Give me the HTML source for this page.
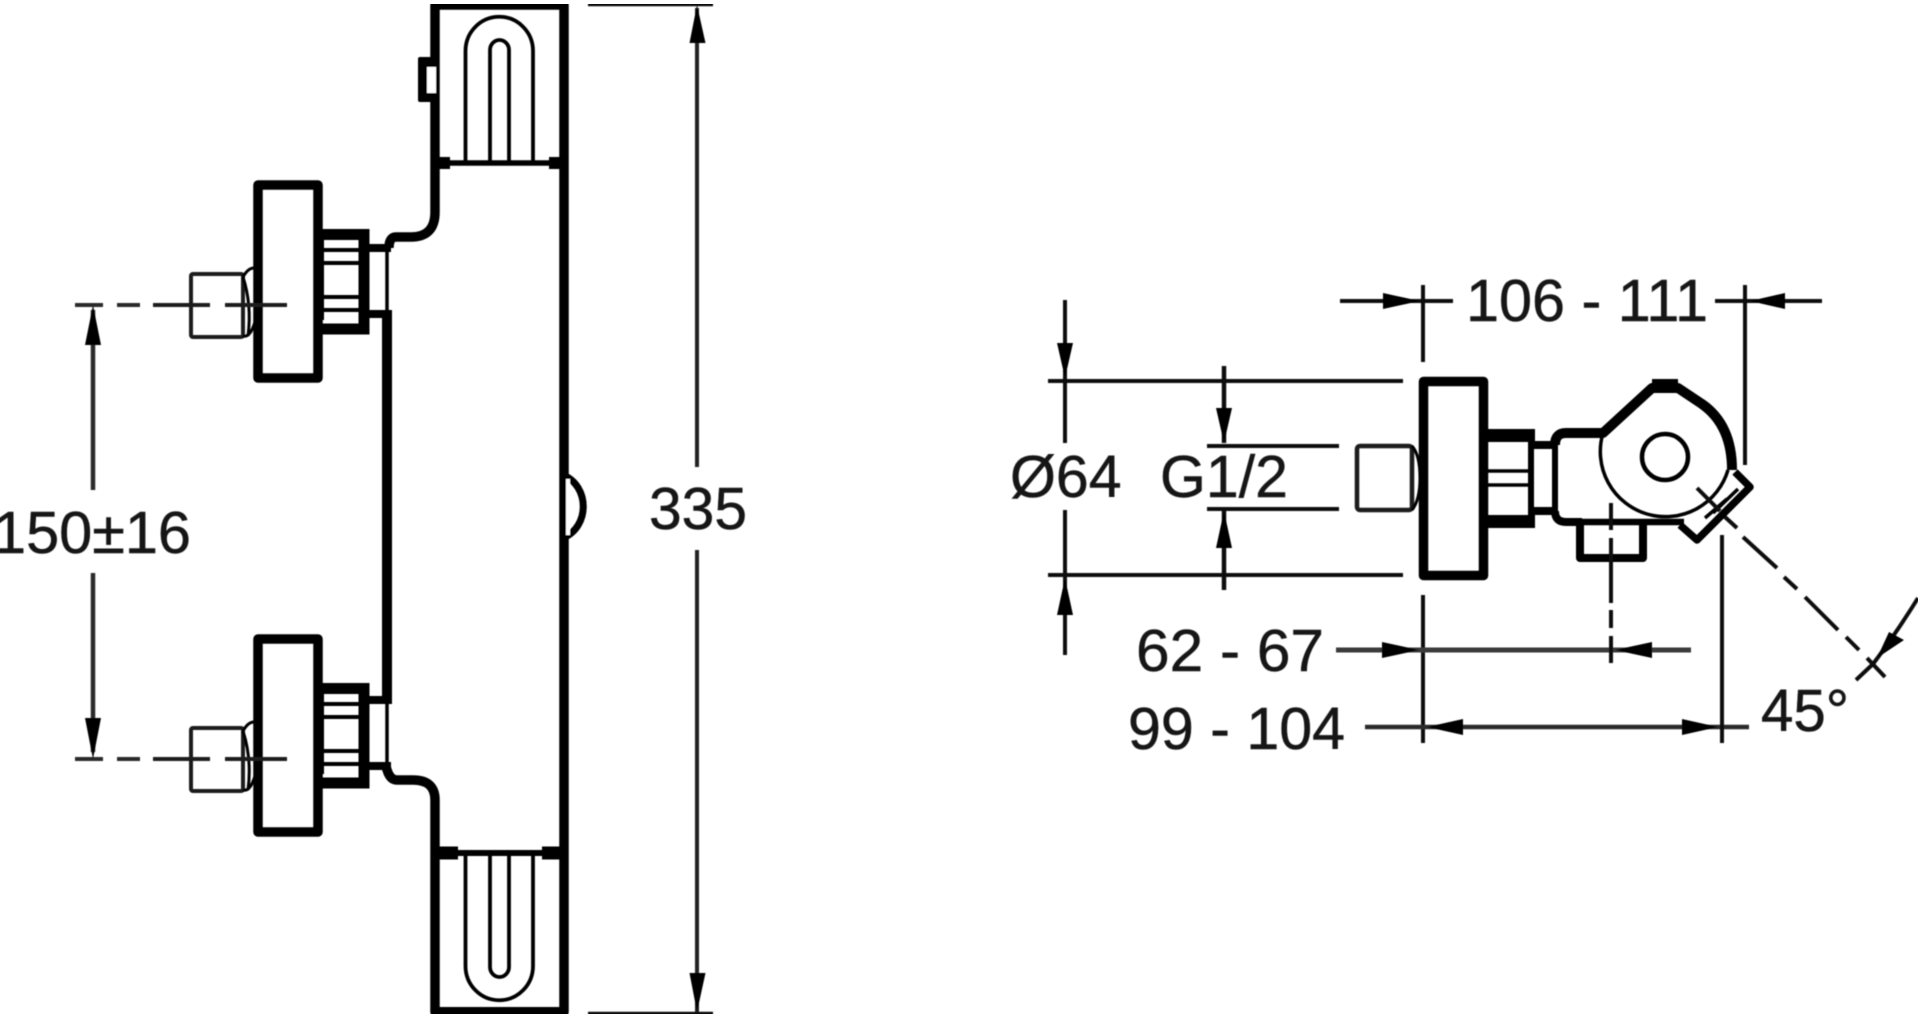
<!DOCTYPE html>
<html lang="en">
<head>
<meta charset="utf-8">
<title>Thermostatic mixer dimensions</title>
<style>
html,body{margin:0;padding:0;background:#fff;width:1920px;height:1019px;overflow:hidden}
svg{display:block}
text{font-family:"Liberation Sans",sans-serif;font-size:59px;fill:#151515;stroke:#151515;stroke-width:.5px}
</style>
</head>
<body>
<svg width="1920" height="1019" viewBox="0 0 1920 1019" xmlns="http://www.w3.org/2000/svg">
<defs>
<filter id="soft" x="0" y="0" width="100%" height="100%"><feGaussianBlur stdDeviation="0.45"/></filter>
<g id="valve" fill="none" stroke="#050505">
  <rect x="258" y="185" width="60" height="193" stroke-width="9.5" stroke-linejoin="round"/>
  <path d="M316 234.500H364V329H316" stroke-width="11" stroke-linejoin="miter"/>
  <path d="M364 234V330" stroke-width="8"/>
  <path d="M322 250Q316 280 322 310" stroke-width="3"/>
  <path d="M322 240V320" stroke-width="4"/>
  <path d="M322 250H363M322 263H363M322 297H363M322 310H363" stroke-width="4"/>
  <rect x="191" y="274" width="52" height="63" stroke-width="4" rx="2" stroke="#1a1a1a"/>
  <path d="M243 277Q248 268 254 268M243 336Q250 338 255 322M243 277Q252 305 248 336" stroke-width="3"/>
  <path d="M153 305H210M225 305H287" stroke-width="4" stroke="#1a1a1a"/>
</g>
</defs>
<rect width="1920" height="1019" fill="#fff"/>
<g filter="url(#soft)">
<!-- LEFT VIEW : body -->
<g fill="none" stroke="#050505" stroke-linejoin="round" stroke-linecap="butt">
  <path d="M435 163V5H564V1012H435V853" stroke-width="9.500" fill="none"/>
  <path d="M435 4.500H564" stroke-width="10"/>
  <path d="M435 1012H564" stroke-width="10"/>
  <!-- dividers -->
  <path d="M435 163H564" stroke-width="5.500"/>
  <path d="M431 163H450M549 163H568" stroke-width="12"/>
  <path d="M435 853H564" stroke-width="6"/>
  <path d="M431 853H458M542 853H568" stroke-width="13"/>
  <!-- U shapes -->
  <path d="M465.500 163V51A33.500 34 0 0 1 533 51V163" stroke-width="3.800"/>
  <path d="M490 163V50A9.500 10 0 0 1 509 50V163" stroke-width="3.800"/>
  <path d="M465.500 853V966A33.500 34 0 0 0 533 966V853" stroke-width="3.800"/>
  <path d="M490 853V967A9.500 10 0 0 0 509 967V853" stroke-width="3.800"/>
  <!-- shoulder top -->
  <path d="M435 163V212Q435 237 411 237H396Q389 237 389 248" stroke-width="9.500"/>
  <!-- shoulder bottom -->
  <path d="M435 853V800Q435 780 413 780H397Q389 780 386 766" stroke-width="9.500"/>
  <!-- back wall -->
  <path d="M387 314V702" stroke-width="10"/>
  <path d="M387 248V314M387 702V766" stroke-width="3.500"/>
  <path d="M364 248H391M364 314H392M364 700H392M364 766H391" stroke-width="8"/>
  <!-- bulge -->
  <path d="M563 475C590 486 590 527 563 538" stroke-width="7"/>
</g>
<!-- small tab -->
<rect x="418" y="57" width="18" height="45" rx="2" fill="#050505"/>
<rect x="427" y="67" width="9" height="26" fill="#fff"/>
<rect x="566" y="479" width="4" height="56" fill="#fff"/>
<use href="#valve"/>
<use href="#valve" y="454"/>

<!-- LEFT VIEW : dimensions -->
<g fill="none" stroke="#2a2a2a">
  <path d="M75 305H103M117 305H140M75 759H103M117 759H140" stroke-width="4"/>
  <path d="M93 310V490M93 573V752" stroke-width="4.500"/>
</g>
<path d="M93 305L101 345H85ZM93 759L101 718H85Z" fill="#050505"/>
<text x="-7" y="553" textLength="198" lengthAdjust="spacingAndGlyphs">150±16</text>

<path d="M588 4H713M588 1014H713" fill="none" stroke="#111" stroke-width="4.500"/>
<path d="M697 8V467M697 550V1012" fill="none" stroke="#222" stroke-width="4"/>
<path d="M697 5L705.500 43H689.500ZM697 1012L705.500 973H689.500Z" fill="#050505"/>
<text x="649" y="529" textLength="98" lengthAdjust="spacingAndGlyphs">335</text>

<!-- RIGHT VIEW : body -->
<g fill="none" stroke="#050505" stroke-linejoin="round">
  <rect x="1423.500" y="381.500" width="60" height="194" stroke-width="9.500"/>
  <path d="M1480 435.500H1535M1480 521.500H1535" stroke-width="13"/>
  <path d="M1531 435V521" stroke-width="6"/>
  <path d="M1488 471H1530M1488 485H1530" stroke-width="3.500"/>
  <path d="M1530 445H1556M1530 511H1556" stroke-width="8"/>
  <path d="M1555 445V511" stroke-width="6"/>
  <path d="M1555 445Q1555 433 1566 433H1603L1652 388H1678L1702 404Q1732 425 1732 470" stroke-width="10"/>
  <path d="M1652 382H1678" stroke-width="6"/>
  <path d="M1555 511Q1555 522 1566 522H1582" stroke-width="8"/>
  <path d="M1580 522V558H1643V522" stroke-width="8"/>
  <path d="M1580 522H1684" stroke-width="6.500"/>
  <path d="M1603 433A64 64 0 1 0 1728 470" stroke-width="3.500"/>
  <circle cx="1665" cy="457" r="23" stroke-width="4.500"/>
  <path d="M1735 472L1750 487L1697 540L1680 525" stroke-width="7.500"/>
  <path d="M1705 518L1727 499M1713 513L1738 489" stroke-width="3.500"/>
  <rect x="1357" y="446" width="55" height="64" rx="3" stroke-width="4.500" stroke="#1a1a1a"/>
  <path d="M1412 446Q1420 455 1420 478Q1420 500 1412 510" stroke-width="3"/>
</g>

<!-- RIGHT VIEW : dimensions -->
<g fill="none" stroke="#111" stroke-width="4">
  <path d="M1340 301H1453M1715 301H1822"/>
  <path d="M1423 285V362M1423 595V743M1745 285V465"/>
  <path d="M1048 381H1403M1048 575H1403"/>
  <path d="M1065 300V443M1065 510V655"/>
  <path d="M1207 446H1339M1207 509H1339"/>
  <path d="M1224 366V443M1224 511V590" stroke-width="4.500"/>
  <path d="M1336 650H1691" stroke="#3a3a3a" stroke-width="5"/>
  <path d="M1365 727H1749" stroke="#2a2a2a" stroke-width="4.500"/>
  <path d="M1722 535V743"/>
  <path d="M1611 503V530M1611 538V603M1611 610V628M1611 636V663" stroke-width="4"/>
  <path d="M1697 488L1720 511M1725 517L1737 528M1743 537L1777 568M1784 577L1797 589M1805 597L1838 630M1846 637L1859 650"/>
  <path d="M1867 658L1885 677"/>
  <path d="M1856 680L1873 664Q1895 635 1918 598"/>
</g>
<g fill="#050505">
  <path d="M1420 301L1383 293V309Z"/>
  <path d="M1750 301L1785 293V309Z"/>
  <path d="M1065 378L1057 343H1073Z"/>
  <path d="M1065 578L1057 615H1073Z"/>
  <path d="M1224 443L1216 408H1232Z"/>
  <path d="M1224 511L1216 548H1232Z"/>
  <path d="M1419 650L1382 642V658Z"/>
  <path d="M1615 650L1652 642V658Z"/>
  <path d="M1427 727L1463 719V735Z"/>
  <path d="M1718 727L1682 719V735Z"/>
  <path d="M1877 658L1889 632L1904 640Z"/>
</g>

<text x="1466" y="321" textLength="242" lengthAdjust="spacingAndGlyphs">106 - 111</text>
<text x="1010" y="497">Ø64</text>
<text x="1160" y="497">G1/2</text>
<text x="1136" y="671" textLength="188" lengthAdjust="spacingAndGlyphs">62 - 67</text>
<text x="1128" y="749" textLength="217" lengthAdjust="spacingAndGlyphs">99 - 104</text>
<text x="1761" y="731" textLength="88" lengthAdjust="spacingAndGlyphs">45°</text>
</g>
</svg>
</body>
</html>
